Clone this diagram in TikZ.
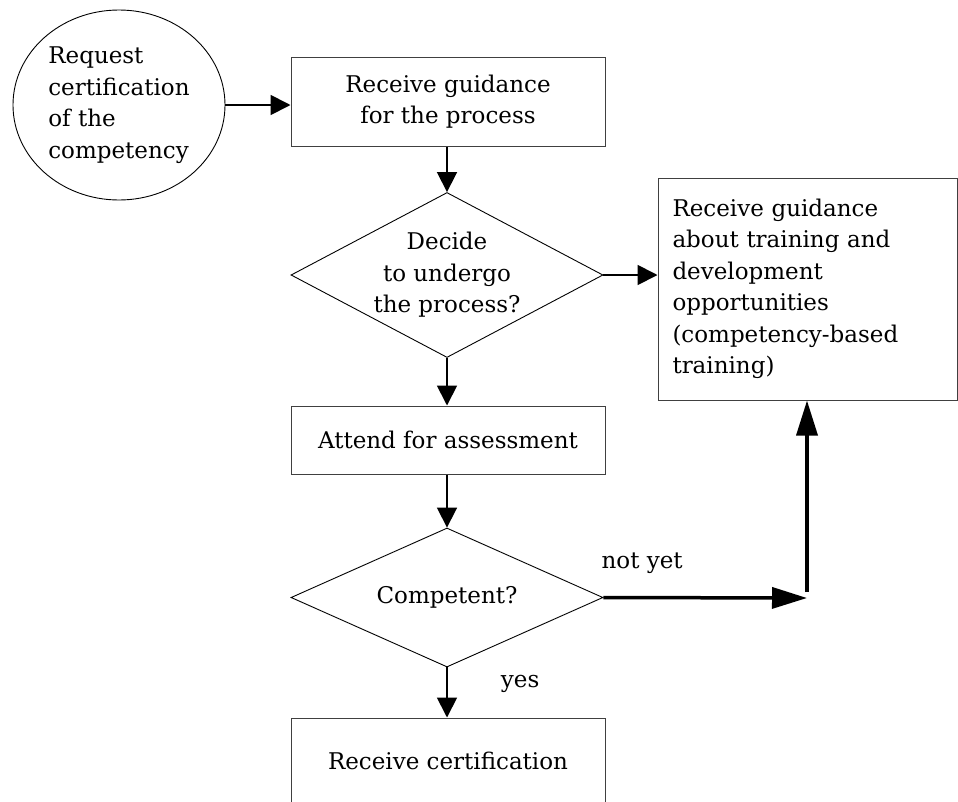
\documentclass[tikz,border=0pt]{standalone}
\usepackage{fontspec}
\setmainfont{DejaVu Serif}
\usetikzlibrary{arrows.meta,shapes.geometric}

\tikzset{
  txt/.style={font=\fontsize{23}{31.5}\selectfont},
  stepbox/.style={txt, draw=black!75, line width=1pt, inner sep=0pt, align=center,
                  minimum width=314pt},
  decision/.style={txt, diamond, draw=black, line width=0.9pt, inner sep=-45pt, align=center,
                   minimum width=312pt, minimum height=165pt},
  startnode/.style={txt, ellipse, draw=black, line width=0.9pt, inner sep=0pt, align=left,
                    minimum width=212pt, minimum height=190pt},
  flow/.style={line width=1.8pt, -{Triangle[length=20pt,width=20pt]}},
  bigflow/.style={line width=3.5pt, -{Triangle[length=35pt,width=21pt]}},
  edgelabel/.style={txt, inner sep=0pt}
}

\begin{document}
\begin{tikzpicture}[x=1pt,y=-1pt]
  \useasboundingbox (0,0) rectangle (958,801);
  \clip (0,0) rectangle (958,801);

  % nodes
  \node[startnode] (req) at (119,105) {Request\\certification\\of the\\competency};
  \node[stepbox, minimum height=89pt] (guide) at (448,101.5) {Receive guidance\\for the process};
  \node[decision] (decide) at (447,275) {Decide\\to undergo\\the process?};
  \node[stepbox, minimum height=68pt] (attend) at (448,440) {Attend for assessment};
  \node[decision, minimum height=139pt] (comp) at (447,597.5) {Competent?};
  \node[stepbox, minimum height=86pt] (cert) at (448,761) {Receive certification};
  \node[txt, draw=black!75, line width=1pt, inner sep=0pt, align=left,
        text width=270pt, minimum width=299pt, minimum height=222pt] (train) at (807.5,289)
        {Receive guidance\\about training and\\development\\opportunities\\(competency-based\\training)};

  % free ends of the "not yet" branch
  \coordinate (turn) at (807,598);
  \coordinate (rise) at (807,592);

  % connectors
  \draw[flow] (req.east) -- (req.east -| guide.west);
  \draw[flow] (guide.south -| decide.north) -- (decide.north);
  \draw[flow] (decide.east) -- (decide.east -| train.west);
  \draw[flow] (decide.south) -- (decide.south |- attend.north);
  \draw[flow] (attend.south -| comp.north) -- (comp.north);
  \draw[flow] (comp.south) -- node[edgelabel, pos=0.32, anchor=west, xshift=53pt] (yes) {yes}
              (comp.south |- cert.north);
  \draw[bigflow] (comp.east) -- node[edgelabel, pos=0.19, anchor=south, yshift=22pt] (notyet) {not yet}
              (turn);
  \draw[bigflow] (rise) -- (rise |- train.south);
\end{tikzpicture}
\end{document}
